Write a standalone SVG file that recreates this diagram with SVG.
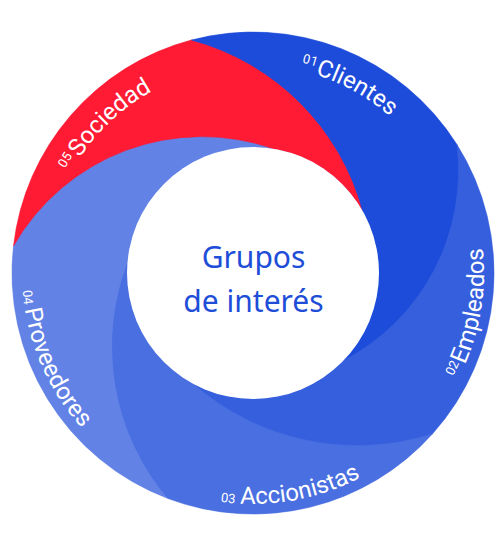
<svg xmlns="http://www.w3.org/2000/svg" width="500" height="535" viewBox="0 0 500 535">
<style>
.seg{stroke-width:0.6}
.lbl{font-family:"Roboto","Noto Sans",sans-serif;font-size:24px;fill:#ffffff;text-anchor:middle}
.num{font-size:13px}
.ctr{font-family:"Noto Sans",sans-serif;font-size:30px;fill:#1e4dd8;text-anchor:middle}
</style>
<defs>
<path id="cw" d="M 45,273 A 208 208 0 1 1 461,273 A 208 208 0 1 1 45,273"/>
<path id="ccw" d="M 253,42 A 231 231 0 1 0 253,504 A 231 231 0 1 0 253,42"/>
</defs>
<circle cx="253" cy="273" r="240.5" fill="#355fdd"/>
<g id="proveedores">
<path class="seg" fill="#6282e6" stroke="#6282e6" d="M 168.2,498.6 A 241 241 0 0 1 13.55,245.72 A 217.4 217.4 0 0 1 273.36,148.65 A 126 126 0 0 0 127.33,263.99 A 235.1 235.1 0 0 0 168.2,498.6 Z"/>
<text class="lbl"><textPath href="#ccw" startOffset="456.4"><tspan class="num">04</tspan><tspan dx="4">Proveedores</tspan></textPath></text>
</g>
<g id="sociedad">
<path class="seg" fill="#ff1b34" stroke="#ff1b34" d="M 13.55,245.72 A 241 241 0 0 1 191.44,40.05 A 242.3 242.3 0 0 1 362.77,211.15 A 126 126 0 0 0 273.36,148.65 A 217.4 217.4 0 0 0 13.55,245.72 Z"/>
<text class="lbl"><textPath href="#cw" startOffset="163.4"><tspan class="num" dy="-7">05</tspan><tspan dx="2" dy="7">Sociedad</tspan></textPath></text>
</g>
<g id="clientes">
<path class="seg" fill="#1d4bda" stroke="#1d4bda" d="M 191.44,40.05 A 241 241 0 0 1 456.93,144.56 A 214.3 214.3 0 0 1 343.42,360.76 A 126 126 0 0 0 362.77,211.15 A 242.3 242.3 0 0 0 191.44,40.05 Z"/>
<text class="lbl"><textPath href="#cw" startOffset="425.1"><tspan class="num" dy="-8">01</tspan><tspan dx="1" dy="8">Clientes</tspan></textPath></text>
</g>
<g id="empleados">
<path class="seg" fill="#355fdd" stroke="#355fdd" d="M 456.93,144.56 A 241 241 0 0 1 432.4,433.9 A 249.1 249.1 0 0 1 193.07,383.83 A 126 126 0 0 0 343.42,360.76 A 214.3 214.3 0 0 0 456.93,144.56 Z"/>
<text class="lbl"><textPath href="#ccw" startOffset="1045.8"><tspan class="num" dy="-6">02</tspan><tspan dx="1" dy="6">Empleados</tspan></textPath></text>
</g>
<g id="accionistas">
<path class="seg" fill="#4a6fe1" stroke="#4a6fe1" d="M 432.4,433.9 A 241 241 0 0 1 168.2,498.6 A 235.1 235.1 0 0 1 127.33,263.99 A 126 126 0 0 0 193.07,383.83 A 249.1 249.1 0 0 0 432.4,433.9 Z"/>
<text class="lbl"><textPath href="#ccw" startOffset="765.2"><tspan class="num">03</tspan><tspan dx="5">Accionistas</tspan></textPath></text>
</g>
<g id="centro">
<circle cx="253" cy="273" r="126" fill="#ffffff"/>
<text class="ctr" x="253.5" y="268">Grupos</text>
<text class="ctr" x="253.5" y="312">de interés</text>
</g>
</svg>
